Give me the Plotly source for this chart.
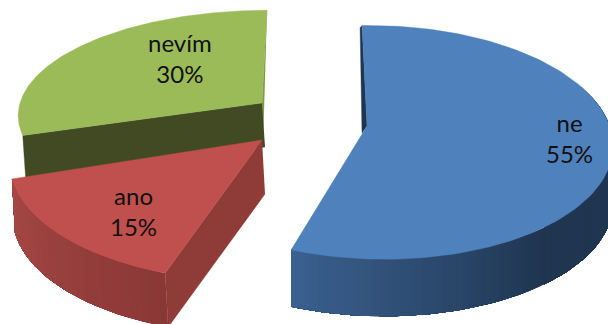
import numpy as np
import plotly.graph_objects as go

labels = ["ne", "ano", "nevím"]
values = [55, 15, 30]
top_colors = ["#4F81BD", "#C0504D", "#9BBB59"]

# Perspective of each exploded slice, in page pixels
geometry = {
    "ne":    dict(ax=367, ay=126, rx=233, ry=114.5, k=0.14, m=0.04, sh=-5.6, depth=57, dx=0),
    "ano":   dict(ax=262, ay=140, rx=248.6, ry=120, k=0.15, m=0.0, sh=6.5, depth=54, dx=3),
    "nevím": dict(ax=262, ay=103, rx=242, ry=102, k=0.10, m=0.0, sh=5.5, depth=44, dx=3),
}
label_pos = {"ne": (569, 138), "ano": (133, 211), "nevím": (180, 58)}
W, H = 608, 324


def project(g, theta):
    t = np.radians(theta)
    u, v = np.sin(t), np.cos(t)
    den = 1 + g["k"] * v - g["m"] * u
    return g["ax"] + (g["rx"] * u + g["sh"] * v) / den, g["ay"] - g["ry"] * v / den


def mix(c1, c2, f):
    a = [int(c1[i:i + 2], 16) for i in (1, 3, 5)]
    b = [int(c2[i:i + 2], 16) for i in (1, 3, 5)]
    return "rgb(%d,%d,%d)" % tuple(round(p + (q - p) * f) for p, q in zip(a, b))


def poly(xs, ys, color, width=0.4):
    return go.Scatter(x=list(xs), y=list(ys), mode="lines", fill="toself", fillcolor=color,
                      line=dict(color=color, width=width), hoverinfo="skip", showlegend=False)


edges = np.cumsum([0] + values) * 3.6
spans = {lab: (edges[i], edges[i + 1]) for i, lab in enumerate(labels)}
color_of = dict(zip(labels, top_colors))
fig = go.Figure()


def top_face(lab):
    g, (a, b) = geometry[lab], spans[lab]
    th = np.linspace(a, b, 120)
    x, y = project(g, th)
    return poly([g["ax"], *x, g["ax"]], [g["ay"], *y, g["ay"]], color_of[lab])


def arc_side(lab, a, b, c_a, c_b):
    # each band runs on to the far end of the arc, so later bands paint over without seams
    g = geometry[lab]
    th = np.linspace(a, b, 40)
    for i in range(len(th) - 1):
        x, y = project(g, th[i:])
        f = i / (len(th) - 2)
        fig.add_trace(poly([*x, *(x[::-1] + g["dx"])], [*y, *(y[::-1] + g["depth"])], mix(c_a, c_b, f), 0))


def cut_side(lab, theta, color):
    g = geometry[lab]
    x, y = project(g, theta)
    fig.add_trace(poly([g["ax"], x, x + g["dx"], g["ax"] + g["dx"]],
                       [g["ay"], y, y + g["depth"], g["ay"] + g["depth"]], color))


# nevím: inner cut and thin far face
g = geometry["nevím"]
a, b = spans["nevím"]
sx, sy = project(g, b)
fig.add_trace(poly([sx, g["ax"], g["ax"] + 1], [sy, g["ay"], g["ay"] + g["depth"]], "#7F9A45"))
cut_side("nevím", a, "#414A23")
fig.add_trace(top_face("nevím"))

# ano: outer rim and right cut
a, b = spans["ano"]
arc_side("ano", a, b, "#8A3836", "#A54846")
cut_side("ano", a, "#8F3B38")
fig.add_trace(top_face("ano"))

# ne: far sliver, rim, top
g = geometry["ne"]
a, b = spans["ne"]
sx, sy = project(g, a)
fig.add_trace(poly([sx, g["ax"], g["ax"] - 5, sx - 2], [sy, g["ay"], g["ay"] + 7, sy + 2], "#1F3550"))
arc_side("ne", 70, 140, "#1F3550", "#1F3550")
arc_side("ne", 140, b, "#1F3550", "#3A6090")
fig.add_trace(top_face("ne"))

for lab, v in zip(labels, values):
    px, py = label_pos[lab]
    fig.add_annotation(x=px, y=py, text=f"{lab}<br>{v}%", showarrow=False,
                       font=dict(family="Lato", size=24, color="#111111"), align="center")

fig.update_layout(width=W, height=H, margin=dict(l=0, r=0, t=0, b=0), showlegend=False,
                  paper_bgcolor="white", plot_bgcolor="white",
                  xaxis=dict(range=[0, W], visible=False, fixedrange=True),
                  yaxis=dict(range=[H, 0], visible=False, fixedrange=True))
fig.write_html("out.html", config=dict(displayModeBar=False),
               post_script="document.body.style.margin='0';document.body.style.overflow='hidden';")
